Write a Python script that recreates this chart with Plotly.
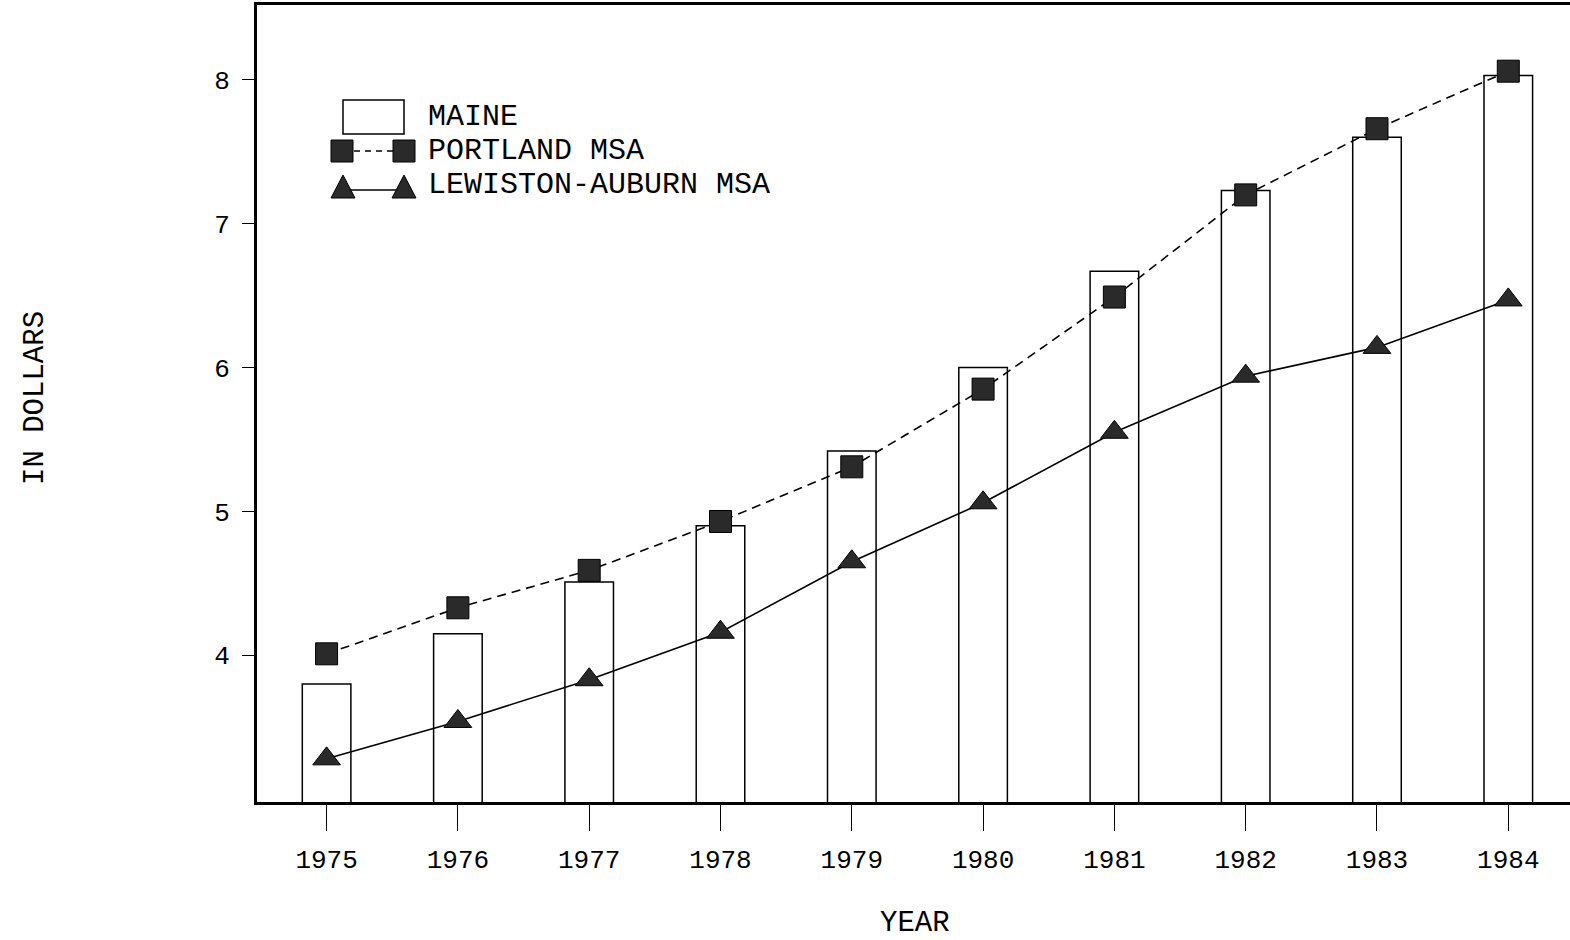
import plotly.graph_objects as go

# ---- data ----
years = [1975, 1976, 1977, 1978, 1979, 1980, 1981, 1982, 1983, 1984]
maine = [3.80, 4.15, 4.51, 4.90, 5.42, 6.00, 6.67, 7.23, 7.60, 8.03]
portland = [4.01, 4.33, 4.59, 4.93, 5.31, 5.85, 6.49, 7.20, 7.66, 8.06]
lewiston = [3.28, 3.54, 3.83, 4.16, 4.65, 5.06, 5.55, 5.94, 6.14, 6.47]
y_ticks = [4, 5, 6, 7, 8]
series_names = ["MAINE", "PORTLAND MSA", "LEWISTON-AUBURN MSA"]

FONT = "Liberation Mono"
W, H = 1570, 940
ML, MR, MT, MB = 257, 0, 5, 138
PW, PH = W - ML - MR, H - MT - MB


def px(x):
    return (x - ML) / PW


def py(y):
    return (H - MB - y) / PH


fig = go.Figure()
fig.add_trace(go.Bar(
    x=years, y=maine, name=series_names[0], width=0.37,
    marker=dict(color="white", line=dict(color="black", width=1.5)),
    showlegend=False,
))
fig.add_trace(go.Scatter(
    x=years, y=portland, name=series_names[1], mode="lines+markers",
    line=dict(color="black", width=1.6, dash="9px,6px"),
    marker=dict(symbol="square", size=22, color="#2a2a2a", line=dict(color="black", width=1)),
    showlegend=False,
))
fig.add_trace(go.Scatter(
    x=years, y=lewiston, name=series_names[2], mode="lines+markers",
    line=dict(color="black", width=1.6),
    marker=dict(symbol="triangle-up", size=24, color="#2a2a2a", line=dict(color="black", width=1)),
    showlegend=False,
))

# ---- custom legend (paper coordinates) ----
shapes = []
annotations = []
shapes.append(dict(type="rect", xref="paper", yref="paper",
                   x0=px(343), x1=px(404), y0=py(134), y1=py(100),
                   line=dict(color="black", width=1.5), fillcolor="white"))
shapes.append(dict(type="line", xref="paper", yref="paper",
                   x0=px(343), x1=px(404), y0=py(151), y1=py(151),
                   line=dict(color="black", width=1.6, dash="6px,5px")))
for cx in (342, 404):
    shapes.append(dict(type="rect", xref="paper", yref="paper",
                       x0=px(cx - 11), x1=px(cx + 11), y0=py(162), y1=py(140),
                       line=dict(color="black", width=1), fillcolor="#2a2a2a"))
shapes.append(dict(type="line", xref="paper", yref="paper",
                   x0=px(343), x1=px(404), y0=py(190), y1=py(190),
                   line=dict(color="black", width=1.6)))
for cx in (343, 404):
    x0, x1, xm = px(cx - 12), px(cx + 12), px(cx)
    yb, yt = py(198), py(175)
    shapes.append(dict(type="path", xref="paper", yref="paper",
                       path=f"M {x0} {yb} L {x1} {yb} L {xm} {yt} Z",
                       line=dict(color="black", width=1), fillcolor="#2a2a2a"))
for name, yc in zip(series_names, (117, 151, 185)):
    annotations.append(dict(text=name, xref="paper", yref="paper",
                            x=px(426), y=py(yc), xanchor="left", yanchor="middle",
                            showarrow=False, font=dict(family=FONT, size=30, color="black")))

annotations.append(dict(text="IN DOLLARS", xref="paper", yref="paper",
                        x=px(35), y=py(398), textangle=-90, xanchor="center", yanchor="middle",
                        showarrow=False, font=dict(family=FONT, size=29, color="black")))
annotations.append(dict(text="YEAR", xref="paper", yref="paper",
                        x=px(915), y=py(923), xanchor="center", yanchor="middle",
                        showarrow=False, font=dict(family=FONT, size=29, color="black")))

fig.update_layout(
    width=W, height=H,
    margin=dict(l=ML, r=MR, t=MT, b=MB),
    paper_bgcolor="white", plot_bgcolor="white",
    shapes=shapes, annotations=annotations,
    showlegend=False,
    xaxis=dict(
        range=[1974.47, 1984.47], tickmode="array", tickvals=years,
        ticktext=[str(y) for y in years],
        ticks="outside", ticklen=26, tickwidth=1.2, tickcolor="black",
        ticklabelstandoff=6,
        showline=True, linecolor="black", linewidth=3, mirror=True,
        showgrid=False, zeroline=False,
        tickfont=dict(family=FONT, size=26, color="black"),
    ),
    yaxis=dict(
        range=[2.98, 8.52], tickmode="array", tickvals=y_ticks,
        ticks="outside", ticklen=12, tickwidth=1.2, tickcolor="black",
        ticklabelstandoff=7,
        showline=True, linecolor="black", linewidth=3, mirror=False,
        showgrid=False, zeroline=False,
        tickfont=dict(family=FONT, size=26, color="black"),
    ),
)

fig.write_html(
    "out.html",
    config={"displayModeBar": False},
    post_script="document.body.style.margin='0px';document.body.style.overflow='hidden';",
)
